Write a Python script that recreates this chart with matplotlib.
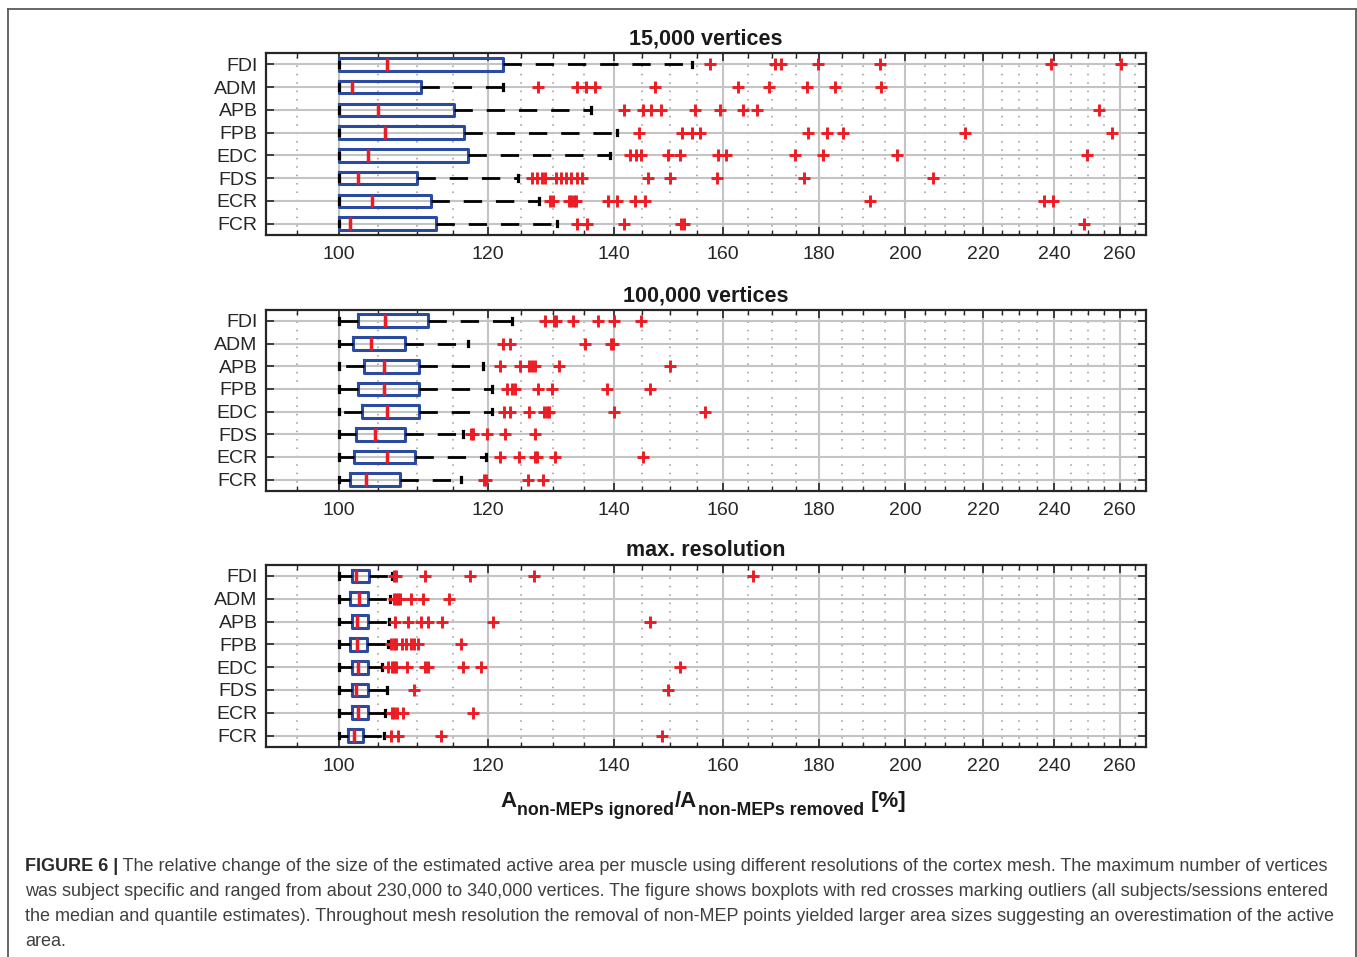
import numpy as np
import matplotlib
matplotlib.use('Agg')
import matplotlib.pyplot as plt
from matplotlib.ticker import FixedLocator, FixedFormatter, NullFormatter
from matplotlib.lines import Line2D

plt.rcParams['font.family'] = ['Liberation Sans', 'DejaVu Sans']

muscles = ['FDI', 'ADM', 'APB', 'FPB', 'EDC', 'FDS', 'ECR', 'FCR']
xmajor = [100, 120, 140, 160, 180, 200, 220, 240, 260]
xminor = [95, 105, 110, 115, 125, 130, 135, 145, 150, 155, 165, 170, 175,
          185, 190, 195, 205, 210, 215, 225, 230, 235, 245, 250, 255, 265]

# 15,000 vertices
v15k_med = [106.1, 101.7, 104.9, 105.8, 103.7, 102.4, 104.2, 101.4]
v15k_q1 = [100, 100, 100, 100, 100, 100, 100, 100]
v15k_q3 = [122.2, 110.6, 115.2, 116.6, 117.1, 110.1, 111.9, 112.7]
v15k_lo = [100, 100, 100, 100, 100, 100, 100, 100]
v15k_hi = [154.0, 122.2, 136.2, 140.6, 139.3, 124.5, 127.8, 130.7]
v15k_out = [
    [157.5, 170.5, 171.8, 179.8, 194.0, 239.0, 260.4],
    [127.7, 133.9, 135.4, 136.8, 147.2, 162.9, 169.3, 177.3, 183.5, 194.2],
    [141.8, 145.2, 146.6, 148.3, 154.7, 159.4, 164.0, 166.8, 253.6],
    [144.4, 152.2, 154.0, 155.6, 177.6, 181.7, 185.4, 215.1, 257.5],
    [142.8, 143.9, 144.8, 149.6, 151.8, 159.0, 160.7, 174.8, 180.9, 198.0, 249.7],
    [126.7, 127.4, 128.2, 128.7, 130.5, 131.3, 132.1, 132.9, 133.9, 134.7,
     146.0, 150.0, 158.8, 176.6, 206.9],
    [129.5, 130.0, 132.5, 132.9, 133.3, 133.7, 139.0, 140.5, 143.7, 145.5,
     191.6, 237.1, 239.7],
    [133.9, 135.5, 141.8, 152.1, 152.5, 248.9],
]

# 100,000 vertices
v100k_med = [105.9, 104.0, 105.7, 105.7, 106.1, 104.6, 106.1, 103.4]
v100k_q1 = [102.4, 101.8, 103.1, 102.4, 102.9, 102.1, 101.9, 101.4]
v100k_q3 = [111.6, 108.5, 110.4, 110.4, 110.4, 108.4, 109.8, 107.8]
v100k_lo = [100, 100, 100, 100, 100, 100, 100, 100]
v100k_hi = [123.6, 117.2, 119.3, 120.6, 120.6, 116.5, 119.7, 116.1]
v100k_out = [
    [128.7, 130.1, 130.4, 133.2, 137.4, 140.0, 144.8],
    [122.3, 123.3, 135.1, 139.5, 139.9],
    [121.9, 124.9, 126.2, 126.7, 127.1, 130.9, 150.0],
    [122.9, 123.6, 124.1, 127.6, 129.8, 138.8, 146.4],
    [122.4, 123.4, 126.2, 128.6, 129.0, 129.4, 140.0, 156.5],
    [117.6, 117.9, 119.9, 122.6, 127.1],
    [121.9, 124.7, 127.2, 127.5, 130.3, 145.2],
    [119.4, 119.7, 126.0, 128.4],
]

# max. resolution
vmax_med = [102.2, 102.5, 102.3, 102.3, 102.4, 102.2, 102.4, 101.9]
vmax_q1 = [101.6, 101.4, 101.6, 101.4, 101.6, 101.6, 101.6, 101.1]
vmax_q3 = [103.8, 103.7, 103.6, 103.5, 103.6, 103.6, 103.6, 103.0]
vmax_lo = [100, 100, 100, 100, 100, 100, 100, 100]
vmax_hi = [106.7, 106.5, 106.4, 106.2, 105.5, 106.1, 105.8, 105.7]
vmax_out = [
    [107.0, 107.3, 111.2, 117.5, 127.0, 166.1],
    [107.0, 107.3, 107.6, 107.8, 109.2, 110.9, 114.5],
    [107.2, 108.9, 110.6, 111.5, 113.5, 120.8, 146.4],
    [106.6, 107.0, 107.3, 108.1, 108.6, 109.3, 109.7, 110.2, 116.1],
    [106.2, 106.8, 107.0, 107.3, 108.7, 111.2, 111.6, 116.4, 119.0, 151.8],
    [109.7, 149.7],
    [106.8, 107.0, 107.4, 108.2, 117.8],
    [106.6, 107.6, 113.3, 148.6],
]

BLUE = '#2b4aa2'
RED = '#ec1c24'
DARK = '#262626'
W, H = 1357, 957

fig = plt.figure(figsize=(W / 100, H / 100), dpi=100)


def panel(top, bottom, title, med, q1, q3, lo, hi, out):
    ax = fig.add_axes([266 / W, 1 - bottom / H, 880 / W, (bottom - top) / H])
    stats = [dict(med=m, q1=a, q3=b, whislo=l, whishi=h, fliers=f)
             for m, a, b, l, h, f in zip(med, q1, q3, lo, hi, out)]
    lw = 2.0
    ax.bxp(stats, positions=np.arange(len(stats)), orientation='horizontal',
           widths=0.56, capwidths=0.25, manage_ticks=False,
           boxprops=dict(color=BLUE, lw=lw + 0.2, solid_joinstyle='round'),
           medianprops=dict(color=RED, lw=lw + 0.5),
           whiskerprops=dict(color='black', lw=lw, ls=(0, (6.6, 5.0))),
           capprops=dict(color='black', lw=lw + 0.3),
           flierprops=dict(marker='+', markeredgecolor=RED, markersize=9,
                           markeredgewidth=2.1, ls='none'),
           zorder=3)
    ax.set_xscale('log')
    ax.set_xlim(91.5, 268.5)
    ax.set_ylim(len(stats) - 0.5, -0.5)
    ax.xaxis.set_major_locator(FixedLocator(xmajor))
    ax.xaxis.set_major_formatter(FixedFormatter([str(v) for v in xmajor]))
    ax.xaxis.set_minor_locator(FixedLocator(xminor))
    ax.xaxis.set_minor_formatter(NullFormatter())
    ax.set_yticks(np.arange(len(stats)))
    ax.set_yticklabels(muscles)
    ax.tick_params(which='both', direction='in', top=True, right=True,
                   color=DARK, labelcolor=DARK, labelsize=14)
    ax.tick_params(which='major', length=6, width=1.2)
    ax.tick_params(which='minor', length=3.5, width=1)
    ax.tick_params(axis='x', pad=8)
    ax.tick_params(axis='y', pad=6)
    ax.grid(True, which='major', color='#c4c4c4', lw=1.5, ls='-')
    ax.grid(True, which='minor', axis='x', color='#999999', lw=1.1, ls=(0, (1, 4.5)))
    ax.set_axisbelow(True)
    for s in ax.spines.values():
        s.set_linewidth(1.6)
        s.set_color(DARK)
    ax.set_title(title, fontsize=15.5, fontweight='bold', pad=6, color='#1a1a1a')
    return ax


panel(53, 235, '15,000 vertices', v15k_med, v15k_q1, v15k_q3, v15k_lo, v15k_hi, v15k_out)
panel(309.5, 491, '100,000 vertices', v100k_med, v100k_q1, v100k_q3, v100k_lo, v100k_hi, v100k_out)
panel(564.5, 747, 'max. resolution', vmax_med, vmax_q1, vmax_q3, vmax_lo, vmax_hi, vmax_out)

renderer = fig.canvas.get_renderer()

# x label built piece by piece (subscripts)
pieces = [('A', 16, 0), ('non-MEPs ignored', 12.8, -8), ('/A', 16, 0),
          ('non-MEPs removed', 12.8, -8), (' [%]', 16, 0)]
x = 500
for txt, size, dy in pieces:
    t = fig.text(x / W, 1 - (807 - dy) / H, txt, fontsize=size, fontweight='bold',
                 color='#1a1a1a', ha='left', va='baseline')
    x = t.get_window_extent(renderer).x1 + 1

# caption
cap_lines = [
    'The relative change of the size of the estimated active area per muscle using different resolutions of the cortex mesh. The maximum number of vertices',
    'was subject specific and ranged from about 230,000 to 340,000 vertices. The figure shows boxplots with red crosses marking outliers (all subjects/sessions entered',
    'the median and quantile estimates). Throughout mesh resolution the removal of non-MEP points yielded larger area sizes suggesting an overestimation of the active',
    'area.',
]
probe = fig.text(0, 0, 'FIGURE 6 | ' + cap_lines[0], fontsize=12)
size = 12 * 1306 / probe.get_window_extent(renderer).width
probe.remove()

head = fig.text(25 / W, 1 - 871 / H, 'FIGURE 6 |', fontsize=size, fontweight='bold',
                color='#2a2a2a', va='baseline')
hx = head.get_window_extent(renderer).x1
fig.text(hx / W, 1 - 871 / H, ' ' + cap_lines[0], fontsize=size, color='#404040',
         va='baseline')
for i, line in enumerate(cap_lines[1:]):
    fig.text(25 / W, 1 - (896 + 25 * i) / H, line, fontsize=size, color='#404040',
             va='baseline')

# frame around the figure
fc = '#5a5a5a'
fig.add_artist(Line2D([8 / W, 8 / W], [0, 1 - 8.5 / H], color=fc, lw=1.3))
fig.add_artist(Line2D([8 / W, 1355.5 / W], [1 - 8.5 / H, 1 - 8.5 / H], color=fc, lw=1.3))
fig.add_artist(Line2D([1355.5 / W, 1355.5 / W], [0, 1 - 8.5 / H], color=fc, lw=1.3))

fig.savefig('out.png', dpi=100)
